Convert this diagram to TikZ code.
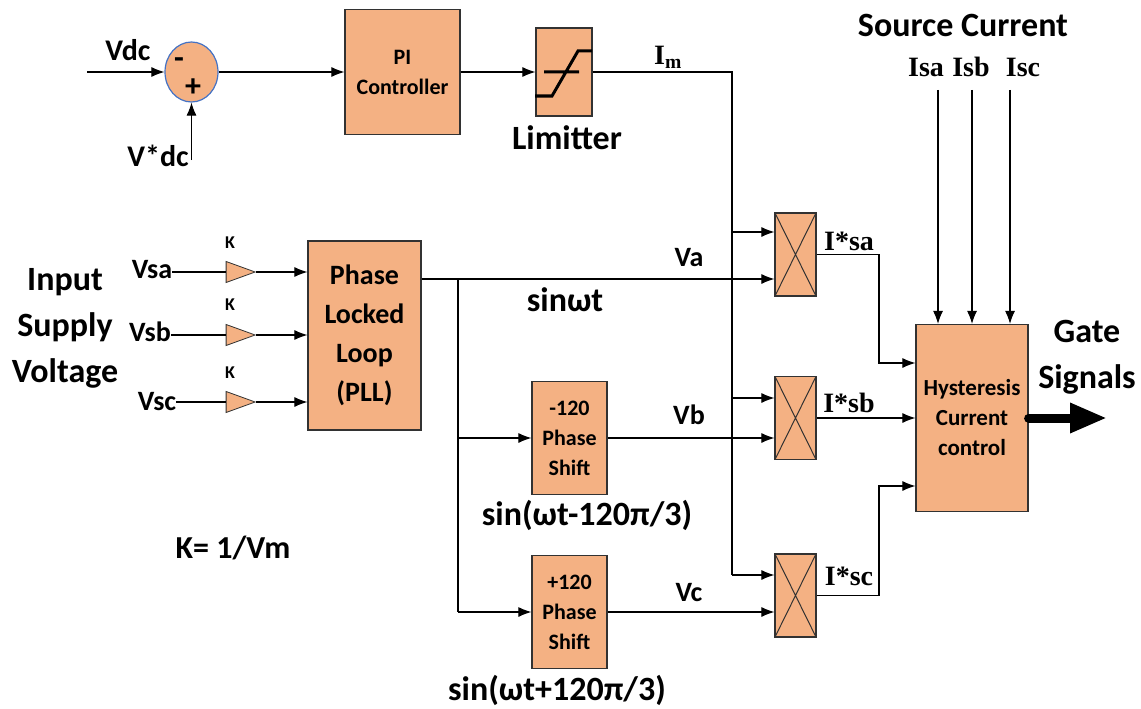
\documentclass[tikz,border=0pt]{standalone}
\usepackage{fontspec}
\setmainfont{Carlito}
\newfontfamily\serifbold{Liberation Serif}
\usetikzlibrary{arrows.meta,positioning,calc,shapes.geometric}
\definecolor{blkfill}{RGB}{244,177,131}
\definecolor{sumedge}{RGB}{68,114,196}
\definecolor{blkedge}{RGB}{50,50,50}
\tikzset{
  blk/.style={draw=blkedge, fill=blkfill, line width=1.2pt, align=center, inner sep=1pt,
    font=\bfseries\fontsize{23}{30}\selectfont},
  mult/.style={draw=blkedge, fill=blkfill, line width=1.2pt, minimum width=41pt, minimum height=83pt,
    inner sep=0pt, path picture={
      \draw[line width=1pt] (path picture bounding box.north west) -- (path picture bounding box.south east)
        (path picture bounding box.north east) -- (path picture bounding box.south west);}},
  gain/.style={isosceles triangle, isosceles triangle stretches, draw=blkedge, fill=blkfill, line width=0.8pt,
    minimum width=21pt, minimum height=29pt, inner sep=0pt},
  sumc/.style={ellipse, draw=sumedge, fill=blkfill, line width=1.2pt, minimum width=53pt, minimum height=60pt},
  lbl/.style={inner sep=0pt, font=\bfseries\fontsize{28}{32}\selectfont},
  biglbl/.style={inner sep=0pt, align=center, font=\bfseries\fontsize{34}{46}\selectfont},
  serlbl/.style={inner sep=0pt, font=\serifbold\bfseries\fontsize{28}{32}\selectfont},
  klbl/.style={inner sep=0pt, font=\bfseries\fontsize{18}{20}\selectfont},
  arr/.style={-{Latex[length=13pt,width=10pt]}, line width=1.1pt},
  wire/.style={line width=1.1pt},
  gatearr/.style={-{Triangle[length=37pt,width=28pt]}, line width=9pt, line cap=round}
}
\begin{document}
\begin{tikzpicture}[x=1pt,y=-1pt]
  \useasboundingbox (0,0) rectangle (1141,709);
  % dc link loop
  \node[sumc] (sum) at (191.5,72) {};
  \node[lbl, font=\bfseries\fontsize{32}{34}\selectfont] (minus) at (179,63) {-};
  \node[lbl, font=\bfseries\fontsize{32}{34}\selectfont] (plus) at (193,88) {+};
  \node[lbl, font=\bfseries\fontsize{30}{34}\selectfont] (vdc) at (128,50) {Vdc};
  \node[lbl, font=\bfseries\fontsize{30}{34}\selectfont] (vref) at (158,156) {V*dc};
  \coordinate (vdcin) at (87,72);
  \coordinate (vrefin) at (191.5,160);
  \node[blk, minimum width=115pt, minimum height=125pt, font=\bfseries\fontsize{22}{30}\selectfont] (pi) at (402.5,72) {PI\\Controller};
  \node[blk, minimum width=56pt, minimum height=88pt] (lim) at (564,72) {};
  \node[biglbl] (limtxt) at (567,138) {Limitter};
  \node[serlbl] (im) at (668,57) {I\textsubscript{m}};
  \draw[line width=3pt] ($(lim)+(-20,0)$) -- ($(lim)+(15,0)$)
    ($(lim)+(-29,24)$) -- ($(lim)+(-12,24)$) -- ($(lim)+(14,-21)$) -- ($(lim)+(28,-21)$);
  \draw[arr] (vdcin) -- (sum.west);
  \draw[arr] (vrefin) -- (sum.south);
  \draw[arr] (sum.east) -- (pi.west);
  \draw[arr] (pi.east) -- (lim.west);
  % supply voltage and pll
  \node[biglbl] (supply) at (65,328) {Input\\Supply\\Voltage};
  \node[gain] (ka) at (233.5,272) {};
  \node[gain] (kb) at (233.5,335) {};
  \node[gain] (kc) at (233.5,402) {};
  \node[klbl] (kalbl) at (230,243) {K};
  \node[klbl] (kblbl) at (230,305) {K};
  \node[klbl] (kclbl) at (230,373) {K};
  \node[lbl] (vsa) at (152,270) {Vsa};
  \node[lbl] (vsb) at (150,332) {Vsb};
  \node[lbl] (vsc) at (157,402) {Vsc};
  \node[blk, minimum width=113pt, minimum height=189pt, font=\bfseries\fontsize{28}{39}\selectfont] (pll) at (364.5,335.5) {Phase\\Locked\\Loop\\(PLL)};
  \foreach \g/\v in {ka/vsa,kb/vsb,kc/vsc}{
    \draw[wire] (\v.east |- \g.west) -- (\g.west);
    \draw[arr] (\g.east) -- (\g.east -| pll.west);
  }
  \node[lbl, font=\bfseries\fontsize{32}{34}\selectfont] (klaw) at (233,548) {K= 1/Vm};
  % phase shifters
  \node[blk, minimum width=75pt, minimum height=113pt, font=\bfseries\fontsize{22}{30}\selectfont] (psb) at (569.5,438) {-120\\Phase\\Shift};
  \node[blk, minimum width=75pt, minimum height=113pt, font=\bfseries\fontsize{22}{30}\selectfont] (psc) at (569.5,612) {+120\\Phase\\Shift};
  \node[biglbl] (sina) at (565,300) {sinωt};
  \node[biglbl] (sinb) at (587,515) {sin(ωt-120π/3)};
  \node[biglbl] (sinc) at (557,690) {sin(ωt+120π/3)};
  \node[lbl] (va) at (689,258) {Va};
  \node[lbl] (vb) at (689,415) {Vb};
  \node[lbl] (vc) at (689,593) {Vc};
  % multipliers
  \node[mult] (ma) at (795.5,254.5) {};
  \node[mult] (mb) at (795.5,418) {};
  \node[mult] (mc) at (795.5,595.5) {};
  \coordinate (ma1) at ($(ma.west)+(0,-22.5)$);
  \coordinate (ma2) at ($(ma.west)+(0,24.5)$);
  \coordinate (mb1) at ($(mb.west)+(0,-20)$);
  \coordinate (mb2) at ($(mb.west)+(0,20)$);
  \coordinate (mc1) at ($(mc.west)+(0,-20.5)$);
  \coordinate (mc2) at ($(mc.west)+(0,16.5)$);
  \node[serlbl] (isa) at (849,241) {I*sa};
  \node[serlbl] (isb) at (849,403) {I*sb};
  \node[serlbl] (isc) at (849,576) {I*sc};
  \coordinate (spine) at (732,72);
  \draw[wire] (lim.east) -- (spine) -- (spine |- mc1);
  \draw[arr] (spine |- ma1) -- (ma1);
  \draw[arr] (spine |- mb1) -- (mb1);
  \draw[arr] (spine |- mc1) -- (mc1);
  \coordinate (branch) at (458,279);
  \draw[arr] (pll.east |- ma2) -- (ma2);
  \draw[wire] (branch) -- (branch |- psc.west);
  \draw[arr] (branch |- psb.west) -- (psb.west);
  \draw[arr] (branch |- psc.west) -- (psc.west);
  \draw[arr] (psb.east) -- (mb2);
  \draw[arr] (psc.east) -- (mc2);
  % hysteresis controller
  \node[blk, minimum width=112pt, minimum height=187pt] (hcc) at (972,418) {Hysteresis\\Current\\control};
  \coordinate (hcc1) at ($(hcc.west)+(0,-55)$);
  \coordinate (hcc3) at ($(hcc.west)+(0,68)$);
  \coordinate (jog) at (879,0);
  \draw[arr] (ma.east) -| (jog |- hcc1) -- (hcc1);
  \draw[arr] (mb.east) -- (hcc.west);
  \draw[arr] (mc.east) -| (jog |- hcc3) -- (hcc3);
  \node[biglbl] (srccur) at (963,25) {Source Current};
  \node[serlbl] (isalbl) at (926,67) {Isa};
  \node[serlbl] (isblbl) at (971,67) {Isb};
  \node[serlbl] (isclbl) at (1023,67) {Isc};
  \coordinate (isain) at (938,90);
  \coordinate (isbin) at (972,90);
  \coordinate (iscin) at (1010,90);
  \foreach \c in {isain,isbin,iscin}
    \draw[arr] (\c) -- (\c |- hcc.north);
  \node[biglbl] (gate) at (1087,357) {Gate\\Signals};
  \coordinate (gateout) at (1107,418);
  \draw[gatearr] (hcc.east) -- (gateout);
\end{tikzpicture}
\end{document}
